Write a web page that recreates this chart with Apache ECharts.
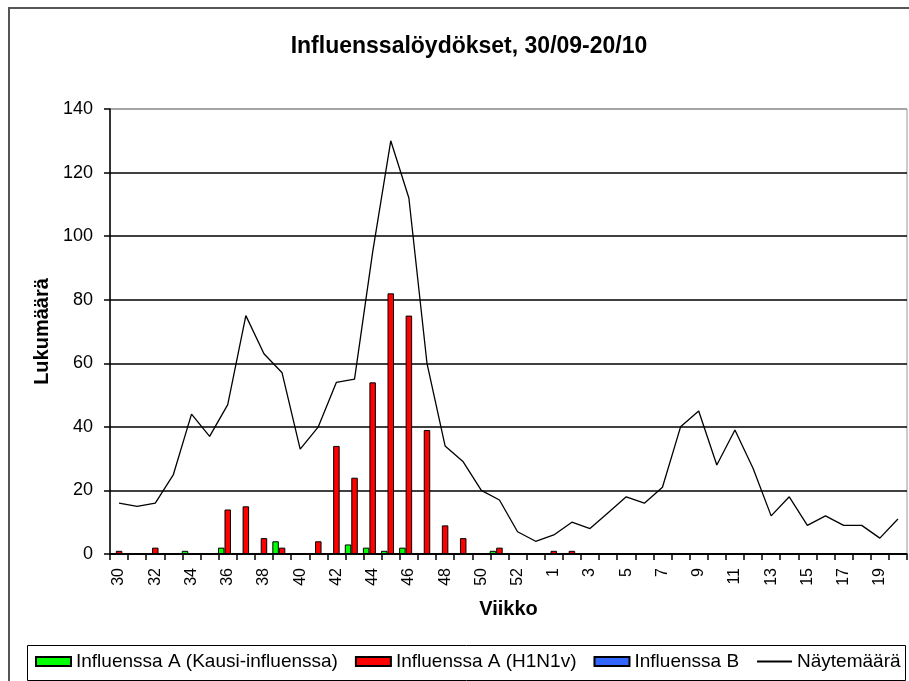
<!DOCTYPE html>
<html>
<head>
<meta charset="utf-8">
<script src="https://cdn.jsdelivr.net/npm/echarts@6/dist/echarts.min.js"></script>
<style>
  html, body { margin: 0; padding: 0; background: #fff; }
  #chart { width: 909px; height: 681px; }
</style>
</head>
<body>
<div id="chart"></div>
<script>
// Weeks 30–53 of 2009 followed by weeks 1–20 of 2010
const weeks = ['30','31','32','33','34','35','36','37','38','39','40','41','42','43','44','45','46','47','48','49','50','51','52','53',
               '1','2','3','4','5','6','7','8','9','10','11','12','13','14','15','16','17','18','19','20'];

// Seasonal influenza A findings
const kausiInfluenssa = [0,0,0,0,1,0,2,0,0,4,0,0,0,3,2,1,2,0,0,0,0,1,0,0,
                         0,0,0,0,0,0,0,0,0,0,0,0,0,0,0,0,0,0,0,0];
// Influenza A (H1N1v) findings
const h1n1v = [1,0,2,0,0,0,14,15,5,2,0,4,34,24,54,82,75,39,9,5,0,2,0,0,
               1,1,0,0,0,0,0,0,0,0,0,0,0,0,0,0,0,0,0,0];
// Influenza B findings
const influenssaB = [0,0,0,0,0,0,0,0,0,0,0,0,0,0,0,0,0,0,0,0,0,0,0,0,
                     0,0,0,0,0,0,0,0,0,0,0,0,0,0,0,0,0,0,0,0];
// Number of samples tested
const naytemaara = [16,15,16,25,44,37,47,75,63,57,33,40,54,55,95,130,112,60,34,29,20,17,7,4,
                    6,10,8,13,18,16,21,40,45,28,39,27,12,18,9,12,9,9,5,11];

const yTicks = { min: 0, max: 140, interval: 20 };

const FONT = '"Liberation Sans", Arial, sans-serif';
const chart = echarts.init(document.getElementById('chart'), null, { renderer: 'canvas' });

chart.setOption({
  animation: false,
  backgroundColor: '#fff',
  textStyle: { fontFamily: FONT, color: '#000' },
  title: {
    text: 'Influenssalöydökset, 30/09-20/10',
    left: 464,
    textAlign: 'center',
    top: 30,
    textStyle: { fontFamily: FONT, fontSize: 23, fontWeight: 'bold', color: '#000' }
  },
  graphic: [
    { type: 'rect', shape: { x: 9, y: 8, width: 1000, height: 1000 },
      style: { fill: null, stroke: '#555', lineWidth: 2 }, silent: true, z: -1 },
    { type: 'rect', shape: { x: 27.5, y: 645.5, width: 878, height: 35 },
      style: { fill: null, stroke: '#000', lineWidth: 1 }, silent: true }
  ],
  legend: {
    left: 35,
    top: 652,
    padding: 0,
    itemGap: 17,
    itemWidth: 35,
    itemHeight: 9,
    textStyle: { fontFamily: FONT, fontSize: 19, color: '#000' },
    data: [
      { name: 'Influenssa A (Kausi-influenssa)', icon: 'rect' },
      { name: 'Influenssa A (H1N1v)', icon: 'rect' },
      { name: 'Influenssa B', icon: 'rect' },
      { name: 'Näytemäärä', itemStyle: { opacity: 0 } }
    ]
  },
  grid: {
    left: 110, right: 2, top: 109, bottom: 127,
    show: true, borderColor: '#999', borderWidth: 1
  },
  xAxis: {
    type: 'category',
    data: weeks,
    boundaryGap: true,
    name: 'Viikko',
    nameLocation: 'middle',
    nameGap: 45,
    nameTextStyle: { fontFamily: FONT, fontSize: 20, fontWeight: 'bold', color: '#000' },
    axisLine: { lineStyle: { color: '#000', width: 1.5 } },
    axisTick: { show: true, interval: 0, length: 6, lineStyle: { color: '#000', width: 1.5 } },
    axisLabel: { interval: 1, rotate: 90, margin: 14, fontFamily: FONT, fontSize: 16, color: '#000' },
    splitLine: { show: false }
  },
  yAxis: {
    type: 'value',
    min: yTicks.min, max: yTicks.max, interval: yTicks.interval,
    name: 'Lukumäärä',
    nameLocation: 'middle',
    nameGap: 57,
    nameTextStyle: { fontFamily: FONT, fontSize: 20, fontWeight: 'bold', color: '#000' },
    axisLine: { show: true, lineStyle: { color: '#000', width: 1.5 } },
    axisTick: { show: true, length: 6, lineStyle: { color: '#000', width: 1.5 } },
    axisLabel: { margin: 17, fontFamily: FONT, fontSize: 18, color: '#000' },
    splitLine: { show: true, lineStyle: {
      color: ['#000','#000','#000','#000','#000','#000','#000','#999'], width: 1.5 } }
  },
  series: [
    { name: 'Influenssa A (Kausi-influenssa)', type: 'bar', data: kausiInfluenssa,
      barWidth: 6.5, barGap: '0%',
      itemStyle: { color: '#00ff00', borderColor: '#000', borderWidth: 1 } },
    { name: 'Influenssa A (H1N1v)', type: 'bar', data: h1n1v,
      barWidth: 6.5, barGap: '0%',
      itemStyle: { color: '#ff0000', borderColor: '#000', borderWidth: 1 } },
    { name: 'Influenssa B', type: 'bar', data: influenssaB,
      barWidth: 6.5, barGap: '0%',
      itemStyle: { color: '#3366ff', borderColor: '#000', borderWidth: 1 } },
    { name: 'Näytemäärä', type: 'line', data: naytemaara,
      symbol: 'none', z: 5,
      lineStyle: { color: '#000', width: 1.3 },
      itemStyle: { color: '#000' } }
  ]
});
</script>
</body>
</html>
